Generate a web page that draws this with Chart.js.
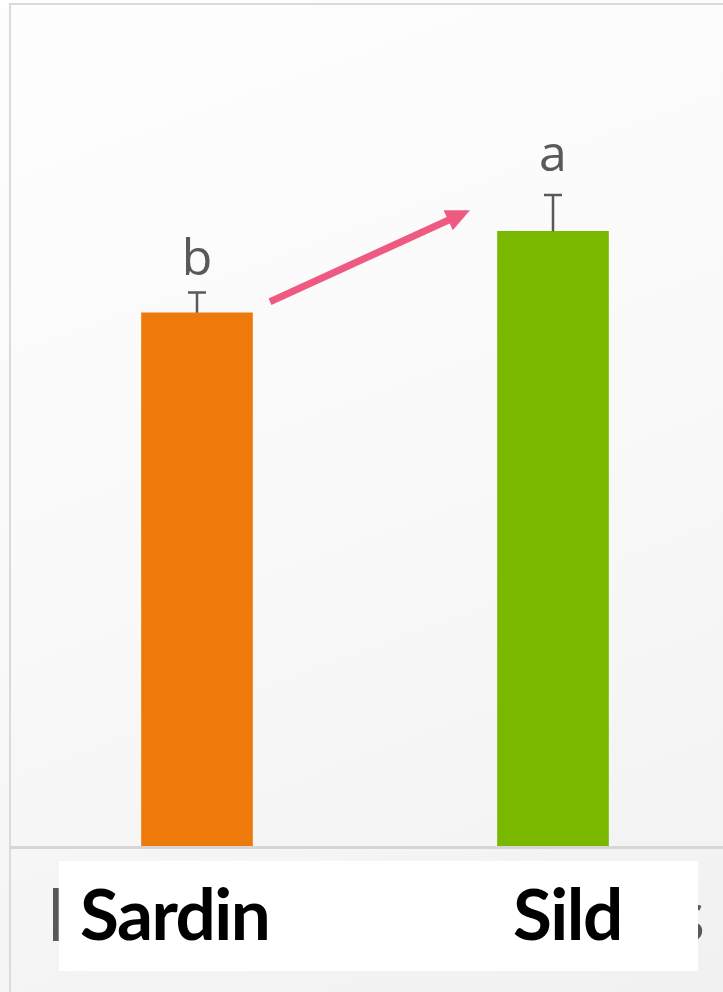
<!DOCTYPE html>
<html lang="da">
<head>
  <meta charset="UTF-8" />
  <title>Sardin og sild</title>
  <style>
    html, body {
      margin: 0;
      width: 723px;
      height: 992px;
      overflow: hidden;
    }
    body {
      background: linear-gradient(160deg, #fefefe 0%, #f9f9f9 50%, #f1f1f1 100%);
      position: relative;
      font-family: Lato, sans-serif;
    }
    #frame {
      position: absolute;
      left: 9px;
      top: 3px;
      width: 740px;
      height: 1000px;
      border-left: 2px solid #dadada;
      border-top: 2px solid #dadada;
    }
    #wrap {
      position: absolute;
      left: 0;
      top: 0;
      width: 760px;
      height: 992px;
    }
    .under {
      position: absolute;
      top: 869px;
      font-family: "Open Sans", sans-serif;
      font-size: 70px;
      line-height: 90px;
      color: #595959;
    }
    #labels {
      position: absolute;
      left: 59px;
      top: 861px;
      width: 639px;
      height: 110px;
      background: #fff;
    }
    #labels span {
      position: absolute;
      top: 12px;
      font-weight: 700;
      font-size: 71px;
      line-height: 80px;
      color: #000;
      letter-spacing: -1.5px;
    }
  </style>
</head>
<body>
<div id="frame"></div>
<div id="wrap"><canvas id="chart" width="760" height="992"></canvas></div>
<div class="under" style="left:47px">l</div>
<div class="under" style="left:672px">s</div>
<div id="labels"></div>

<script src="https://cdn.jsdelivr.net/npm/chart.js"></script>
<script>
  const categories = ['Sardin', 'Sild'];
  const values = [6.34, 7.31];
  const errors = [0.24, 0.43];
  const letters = ['b', 'a'];
  const barColors = ['#ed7a0a', '#7ab800'];

  // label box (sits over the axis, not centred under the bars)
  const labelLeft = [21, 454];
  const box = document.getElementById('labels');
  categories.forEach((c, i) => {
    const s = document.createElement('span');
    s.textContent = c;
    s.style.left = labelLeft[i] + 'px';
    box.appendChild(s);
  });

  const extras = {
    id: 'extras',
    afterDatasetsDraw(chart) {
      const ctx = chart.ctx;
      const x = chart.scales.x, y = chart.scales.y;
      const area = chart.chartArea;

      // baseline
      ctx.save();
      ctx.strokeStyle = '#d6d6d6';
      ctx.lineWidth = 3;
      ctx.beginPath();
      ctx.moveTo(10, area.bottom + 1.5);
      ctx.lineTo(760, area.bottom + 1.5);
      ctx.stroke();

      // error bars + letters
      ctx.strokeStyle = '#595959';
      ctx.fillStyle = '#595959';
      ctx.lineWidth = 2.5;
      ctx.font = '50px "Open Sans", sans-serif';
      ctx.textAlign = 'center';
      ctx.textBaseline = 'alphabetic';
      values.forEach((v, i) => {
        const cx = x.getPixelForValue(i);
        const top = y.getPixelForValue(v);
        const hi = y.getPixelForValue(v + errors[i]);
        ctx.beginPath();
        ctx.moveTo(cx, top);
        ctx.lineTo(cx, hi);
        ctx.moveTo(cx - 9, hi);
        ctx.lineTo(cx + 9, hi);
        ctx.stroke();
        ctx.fillText(letters[i], cx, hi - (i ? 24 : 18));
      });

      // arrow from Sardin to Sild
      const sx = x.getPixelForValue(0) + 73;
      const sy = y.getPixelForValue(values[0]) - 11;
      const ex = x.getPixelForValue(1) - 83;
      const ey = y.getPixelForValue(values[1]) - 21;
      const ang = Math.atan2(ey - sy, ex - sx);
      const head = 24;
      ctx.strokeStyle = '#ef5a83';
      ctx.fillStyle = '#ef5a83';
      ctx.lineWidth = 7;
      ctx.beginPath();
      ctx.moveTo(sx, sy);
      ctx.lineTo(ex - head * 0.8 * Math.cos(ang), ey - head * 0.8 * Math.sin(ang));
      ctx.stroke();
      ctx.beginPath();
      ctx.moveTo(ex, ey);
      ctx.lineTo(ex - head * Math.cos(ang) + 11 * Math.sin(ang), ey - head * Math.sin(ang) - 11 * Math.cos(ang));
      ctx.lineTo(ex - head * Math.cos(ang) - 11 * Math.sin(ang), ey - head * Math.sin(ang) + 11 * Math.cos(ang));
      ctx.closePath();
      ctx.fill();
      ctx.restore();
    }
  };

  new Chart(document.getElementById('chart'), {
    type: 'bar',
    data: {
      labels: categories,
      datasets: [{
        data: values,
        backgroundColor: barColors,
        barThickness: 111,
        borderWidth: 0
      }]
    },
    options: {
      responsive: false,
      animation: false,
      layout: { padding: { left: 19, right: 29, top: 5, bottom: 146 } },
      plugins: { legend: { display: false }, tooltip: { enabled: false } },
      scales: {
        x: { display: false },
        y: { display: false, min: 0, max: 10 }
      }
    },
    plugins: [extras]
  });
</script>
</body>
</html>
